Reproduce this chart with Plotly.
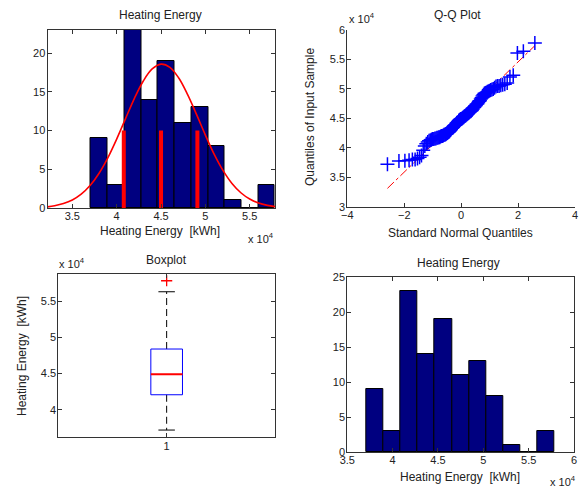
import plotly.graph_objects as go
from statistics import NormalDist

# ---------------- data (units of 10^4 kWh) ----------------
bin_start = 3.710
bin_width = 0.1886
hist_counts = [9, 3, 23, 14, 19, 11, 13, 8, 1, 0, 3]

# fitted normal curve
curve_x = [3.22, 3.3, 3.4, 3.5, 3.6, 3.7, 3.8, 3.9, 4.0, 4.1, 4.2, 4.3, 4.4, 4.5,
           4.6, 4.7, 4.8, 4.9, 5.0, 5.1, 5.2, 5.3, 5.4, 5.5, 5.6, 5.7, 5.785]
curve_y = [0.15, 0.29, 0.57, 1.03, 1.78, 2.90, 4.46, 6.48, 8.90, 11.55, 14.17, 16.41,
           17.97, 18.59, 18.18, 16.79, 14.65, 12.09, 9.42, 6.93, 4.83, 3.17, 1.97,
           1.16, 0.64, 0.34, 0.18]

# red vertical markers in the histfit panel
marker_x = [4.08, 4.50, 4.91]
marker_h = [10, 10, 10]

# sorted sample (Q-Q plot)
sample = [3.72, 3.775, 3.78, 3.79, 3.80, 3.80, 3.82, 3.84, 3.87,
          3.96, 4.03, 4.07,
          4.10, 4.12, 4.13, 4.14, 4.15, 4.15, 4.16, 4.16, 4.17, 4.17, 4.18, 4.18,
          4.19, 4.20, 4.20, 4.21, 4.22, 4.22, 4.23, 4.24, 4.25, 4.26, 4.27,
          4.28, 4.30, 4.31, 4.33, 4.34, 4.35, 4.37, 4.38, 4.39, 4.40, 4.42, 4.43,
          4.44, 4.46,
          4.47, 4.48, 4.49, 4.49, 4.50, 4.51, 4.52, 4.53, 4.54, 4.55, 4.56, 4.57,
          4.58, 4.59, 4.60, 4.61, 4.62, 4.63, 4.64,
          4.66, 4.68, 4.69, 4.71, 4.72, 4.74, 4.75, 4.77, 4.79, 4.80, 4.83,
          4.85, 4.88, 4.90, 4.92, 4.93, 4.94, 4.95, 4.96, 4.97, 4.98, 4.99, 5.00,
          5.02,
          5.04, 5.05, 5.05, 5.06, 5.07, 5.08, 5.10, 5.20,
          5.23,
          5.61, 5.64, 5.78]

# boxplot statistics
box_q1 = 4.207
box_median = 4.49
box_q3 = 4.838
box_lower = 3.72
box_upper = 5.628
box_outliers = [5.78]

# ---------------- derived ----------------
edges = [bin_start + i * bin_width for i in range(len(hist_counts) + 1)]
centers = [(edges[i] + edges[i + 1]) / 2 for i in range(len(hist_counts))]
n = len(sample)
nd = NormalDist()
theo = [nd.inv_cdf((i + 0.5) / n) for i in range(n)]
z25, z75 = nd.inv_cdf(0.25), nd.inv_cdf(0.75)
slope = (box_q3 - box_q1) / (z75 - z25)
line_x = [theo[0], theo[-1]]
line_y = [box_q1 + slope * (x - z25) for x in line_x]

NAVY = "#000080"
W, H = 579, 488
FONT = "Liberation Sans, Arial, sans-serif"

fig = go.Figure()

# ---- top-left: histfit ----
fig.add_trace(go.Bar(x=centers, y=hist_counts, width=bin_width, marker=dict(color=NAVY, line=dict(color="black", width=1)),
                     xaxis="x", yaxis="y", showlegend=False))
mx, my = [], []
for xv, hv in zip(marker_x, marker_h):
    mx += [xv, xv, None]
    my += [0, hv, None]
fig.add_trace(go.Scatter(x=mx, y=my, mode="lines", line=dict(color="#ff0000", width=4),
                         xaxis="x", yaxis="y", showlegend=False))
fig.add_trace(go.Scatter(x=curve_x, y=curve_y, mode="lines", line=dict(color="#ff0000", width=1.6, shape="spline"),
                         xaxis="x", yaxis="y", showlegend=False))

# ---- top-right: Q-Q plot ----
fig.add_trace(go.Scatter(x=line_x, y=line_y, mode="lines", line=dict(color="#ff0000", width=1, dash="dashdot"),
                         xaxis="x2", yaxis="y2", showlegend=False))
fig.add_trace(go.Scatter(x=theo, y=sample, mode="markers",
                         marker=dict(symbol="cross-thin", size=10, line=dict(color="#0000ff", width=1.5)),
                         xaxis="x2", yaxis="y2", showlegend=False))

# ---- bottom-left: boxplot ----
bw, cw, c = 0.073, 0.038, 1
fig.add_trace(go.Scatter(x=[c, c, None, c, c], y=[box_q3, box_upper, None, box_q1, box_lower], mode="lines",
                         line=dict(color="black", width=1, dash="7px,4px"), xaxis="x3", yaxis="y3", showlegend=False))
fig.add_trace(go.Scatter(x=[c - cw, c + cw, None, c - cw, c + cw], y=[box_upper, box_upper, None, box_lower, box_lower],
                         mode="lines", line=dict(color="black", width=1), xaxis="x3", yaxis="y3", showlegend=False))
fig.add_trace(go.Scatter(x=[c - bw, c + bw, c + bw, c - bw, c - bw], y=[box_q1, box_q1, box_q3, box_q3, box_q1],
                         mode="lines", line=dict(color="#0000ff", width=1), xaxis="x3", yaxis="y3", showlegend=False))
fig.add_trace(go.Scatter(x=[c - bw, c + bw], y=[box_median, box_median], mode="lines",
                         line=dict(color="#ff0000", width=2), xaxis="x3", yaxis="y3", showlegend=False))
fig.add_trace(go.Scatter(x=[c] * len(box_outliers), y=box_outliers, mode="markers",
                         marker=dict(symbol="cross-thin", size=8, line=dict(color="#ff0000", width=1.3)),
                         xaxis="x3", yaxis="y3", showlegend=False))

# ---- bottom-right: histogram ----
fig.add_trace(go.Bar(x=centers, y=hist_counts, width=bin_width, marker=dict(color=NAVY, line=dict(color="black", width=1)),
                     xaxis="x4", yaxis="y4", showlegend=False))


def px_dom(a, b, total):
    return [a / total, b / total]


def py_dom(top, bottom):
    return [1 - bottom / H, 1 - top / H]


axis_common = dict(showline=True, linecolor="#333333", linewidth=1, ticks="inside", ticklen=4,
                   tickcolor="#333333", showgrid=False, zeroline=False, automargin=False,
                   tickfont=dict(family=FONT, size=11, color="#222222"))
xcommon = dict(axis_common, ticklabelstandoff=-2)
ycommon = dict(axis_common, ticklabelstandoff=-1)

fig.update_layout(
    template="none",
    width=W, height=H, margin=dict(l=0, r=0, t=0, b=0, pad=0),
    paper_bgcolor="white", plot_bgcolor="white", bargap=0,
    font=dict(family=FONT, size=12, color="#222222"),
    xaxis=dict(domain=px_dom(47.5, 275, W), range=[3.22, 5.785], tickvals=[3.5, 4, 4.5, 5, 5.5],
               ticktext=["3.5", "4", "4.5", "5", "5.5"], mirror="ticks", anchor="y", **xcommon),
    yaxis=dict(domain=py_dom(30, 208), range=[0, 23], tickvals=[0, 5, 10, 15, 20], mirror="ticks",
               anchor="x", **ycommon),
    xaxis2=dict(domain=px_dom(347.3, 575, W), range=[-4, 4], tickvals=[-4, -2, 0, 2, 4], mirror=False,
                anchor="y2", **xcommon),
    yaxis2=dict(domain=py_dom(30, 206.7), range=[3, 6], tickvals=[3, 3.5, 4, 4.5, 5, 5.5, 6],
                ticktext=["3", "3.5", "4", "4.5", "5", "5.5", "6"], mirror=False, anchor="x2", **ycommon),
    xaxis3=dict(domain=px_dom(58.3, 275, W), range=[0.5, 1.5], tickvals=[1], mirror="ticks", anchor="y3",
                **xcommon),
    yaxis3=dict(domain=py_dom(274, 437.3), range=[3.62, 5.873], tickvals=[4, 4.5, 5, 5.5],
                ticktext=["4", "4.5", "5", "5.5"], mirror="ticks", anchor="x3", **ycommon),
    xaxis4=dict(domain=px_dom(347.3, 574, W), range=[3.5, 6], tickvals=[3.5, 4, 4.5, 5, 5.5, 6],
                ticktext=["3.5", "4", "4.5", "5", "5.5", "6"], mirror="ticks", anchor="y4", **xcommon),
    yaxis4=dict(domain=py_dom(277, 452), range=[0, 25], tickvals=[0, 5, 10, 15, 20, 25], mirror="ticks",
                anchor="x4", **ycommon),
)


def ann(text, x, y, size=12, angle=0, xanchor="center"):
    fig.add_annotation(text=text, x=x / W, y=1 - y / H, xref="paper", yref="paper", showarrow=False,
                       xanchor=xanchor, yanchor="middle", textangle=angle,
                       font=dict(family=FONT, size=size, color="#222222"))


EXP = "x 10<sup>4</sup>"
ann("Heating Energy", 160, 15)
ann("Heating Energy  [kWh]", 160, 231)
ann(EXP, 246, 238, size=11, xanchor="left")
ann("Q-Q Plot", 457, 15)
ann("Standard Normal Quantiles", 460, 233)
ann("Quantiles of Input Sample", 310, 117, angle=-90)
ann(EXP, 347, 18, size=11, xanchor="left")
ann("Boxplot", 166, 260)
ann("Heating Energy  [kWh]", 22, 356, angle=-90)
ann(EXP, 57, 263, size=11, xanchor="left")
ann("Heating Energy", 458, 263)
ann("Heating Energy  [kWh]", 460, 477)
ann(EXP, 548, 481, size=11, xanchor="left")

fig.write_html("out.html", config={"displayModeBar": False},
               post_script="document.body.style.margin='0px';document.body.style.overflow='hidden';")
